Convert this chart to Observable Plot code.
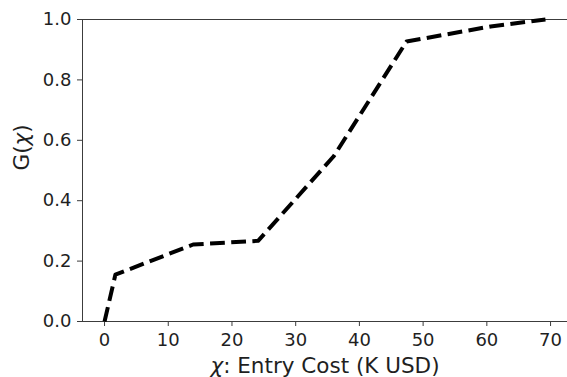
<!DOCTYPE html>
<html>
<head>
<meta charset="utf-8">
<script src="https://cdn.jsdelivr.net/npm/d3@7"></script>
<script src="https://cdn.jsdelivr.net/npm/@observablehq/plot@0.6"></script>
<style>
  html, body { margin: 0; padding: 0; background: #fff; }
  #chart svg { display: block; }
</style>
</head>
<body>
<div id="chart"></div>
<script>
// Cumulative distribution of entry costs (thousands of USD)
const entryCostK = [0, 1.7, 13.9, 24.1, 36.0, 47.4, 60.6, 69.2];
const cdfG       = [0, 0.155, 0.255, 0.267, 0.548, 0.927, 0.977, 1.0];
const xTicks = [0, 10, 20, 30, 40, 50, 60, 70];
const yTicks = [0, 0.2, 0.4, 0.6, 0.8, 1.0];
const xLabel = "χ: Entry Cost (K USD)";
const yLabel = "G(χ)";

const points = entryCostK.map((x, i) => ({x, g: cdfG[i]}));

// 5% padding on the x range, y fixed to [0, 1]
const xMin = d3.min(entryCostK), xMax = d3.max(entryCostK);
const xPad = 0.05 * (xMax - xMin);
const xDomain = [xMin - xPad, xMax + xPad];

const ink = "#1f1f1f";
const spine = "#3c3c3c";

const chart = Plot.plot({
  width: 567,
  height: 377,
  marginLeft: 82,
  marginRight: 0,
  marginTop: 19,
  marginBottom: 56,
  style: {fontFamily: "DejaVu Sans", background: "#fff", color: ink, overflow: "visible"},
  x: {domain: xDomain},
  y: {domain: [0, 1]},
  marks: [
    Plot.axisX(xTicks, {tickSize: 5, tickPadding: 7, fontSize: 18, stroke: spine, label: null}),
    Plot.axisY(yTicks, {tickSize: 5, tickPadding: 6, fontSize: 18, stroke: spine, tickFormat: d3.format(".1f"), label: null}),
    // spines: left, bottom, top
    Plot.ruleX([xDomain[0]], {stroke: spine, strokeWidth: 1}),
    Plot.ruleY([0], {stroke: spine, strokeWidth: 1}),
    Plot.ruleY([1], {stroke: spine, strokeWidth: 1}),
    Plot.line(points, {
      x: "x", y: "g",
      stroke: "black", strokeWidth: 4,
      strokeDasharray: "14.8,6.4",
      strokeLinecap: "butt", strokeLinejoin: "round"
    }),
    Plot.text([xLabel], {text: d => d, frameAnchor: "bottom", dy: 51, lineAnchor: "bottom", fontSize: 21.5, fill: ink}),
    Plot.text([yLabel], {text: d => d, frameAnchor: "left", dx: -60, rotate: -90, fontSize: 21.5, fill: ink})
  ]
});

// set the Greek chi in italic, as in math notation
const ns = "http://www.w3.org/2000/svg";
chart.querySelectorAll("text").forEach(t => {
  if (!t.textContent.includes("χ")) return;
  const parts = t.textContent.split("χ");
  t.textContent = "";
  parts.forEach((p, i) => {
    if (i > 0) {
      const ts = document.createElementNS(ns, "tspan");
      ts.setAttribute("font-style", "italic");
      ts.textContent = "χ";
      t.appendChild(ts);
    }
    if (p) t.appendChild(document.createTextNode(p));
  });
});

document.getElementById("chart").appendChild(chart);
</script>
</body>
</html>
